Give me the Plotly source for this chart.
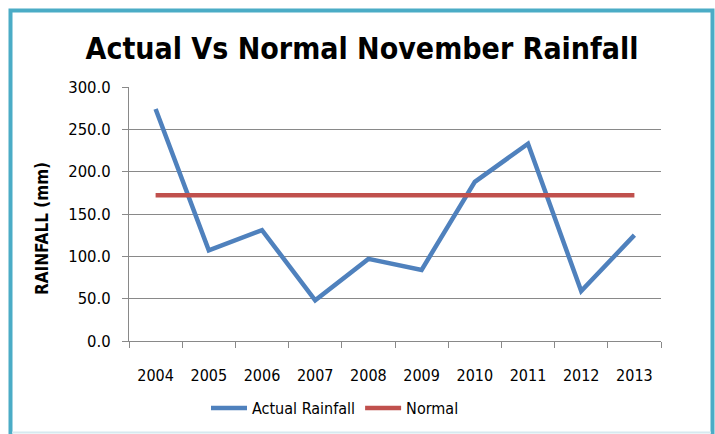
import plotly.graph_objects as go

years = ["2004", "2005", "2006", "2007", "2008", "2009", "2010", "2011", "2012", "2013"]
actual = [274, 107, 131, 48, 97, 84, 188, 233, 59, 125]
normal = [172] * 10

W, H = 715, 434
L, R, T, B = 129, 54, 87, 93
pw, ph = W - L - R, H - T - B

def px(x):
    return (x - L) / pw

def py(y):
    return (H - B - y) / ph

fig = go.Figure()
fig.add_trace(go.Scatter(x=years, y=actual, mode="lines", name="Actual Rainfall",
                         line=dict(color="#4F81BD", width=4.5)))
fig.add_trace(go.Scatter(x=years, y=normal, mode="lines", name="Normal",
                         line=dict(color="#C0504D", width=4.5)))

ff = "DejaVu Sans Condensed, Lato, sans-serif"
fig.update_layout(
    width=W, height=H,
    margin=dict(l=L, r=R, t=T, b=B, autoexpand=False),
    paper_bgcolor="white", plot_bgcolor="white",
    title=dict(text="<b>Actual Vs Normal November Rainfall</b>", x=(362 - 0.0) / W, xref="container",
               xanchor="center", y=(H - 48) / H, yref="container", yanchor="middle",
               font=dict(family=ff, size=30, color="black")),
    showlegend=True,
    legend=dict(orientation="h", x=px(335), xanchor="center", y=py(408), yanchor="middle",
                font=dict(family=ff, size=16, color="black"), tracegroupgap=0, itemwidth=36),
    font=dict(family=ff, color="black"),
)
fig.update_xaxes(type="category", range=[-0.5, 9.5], tickson="boundaries", ticks="outside", ticklen=6,
                 tickcolor="#898989", showline=True, linecolor="#898989", linewidth=1,
                 showgrid=False, tickfont=dict(size=16, color="black"), ticklabelstandoff=20,
                 fixedrange=True)
fig.update_yaxes(range=[0, 300], dtick=50, tickformat=".1f", ticks="outside", ticklen=6,
                 tickcolor="#898989", showline=True, linecolor="#898989", linewidth=1,
                 showgrid=True, gridcolor="#898989", gridwidth=1, zeroline=False,
                 tickfont=dict(size=16.5, color="black"), ticklabelstandoff=8, fixedrange=True)

fig.add_annotation(text="<b>RAINFALL (mm)</b>", textangle=-90, xref="paper", yref="paper",
                   x=px(42), y=py(229), xanchor="center", yanchor="middle", showarrow=False,
                   font=dict(family=ff, size=17, color="black"))

fig.add_shape(type="rect", xref="paper", yref="paper",
              x0=px(10.5), x1=px(712.5), y0=py(440), y1=py(10.5),
              line=dict(color="#4BACC6", width=4), layer="below")
fig.add_shape(type="line", xref="paper", yref="paper",
              x0=px(12), x1=px(711), y0=py(432.5), y1=py(432.5),
              line=dict(color="#D6EAF0", width=2), layer="below")

fig.write_html("out.html", config={"displayModeBar": False},
               post_script="document.body.style.margin='0';")
